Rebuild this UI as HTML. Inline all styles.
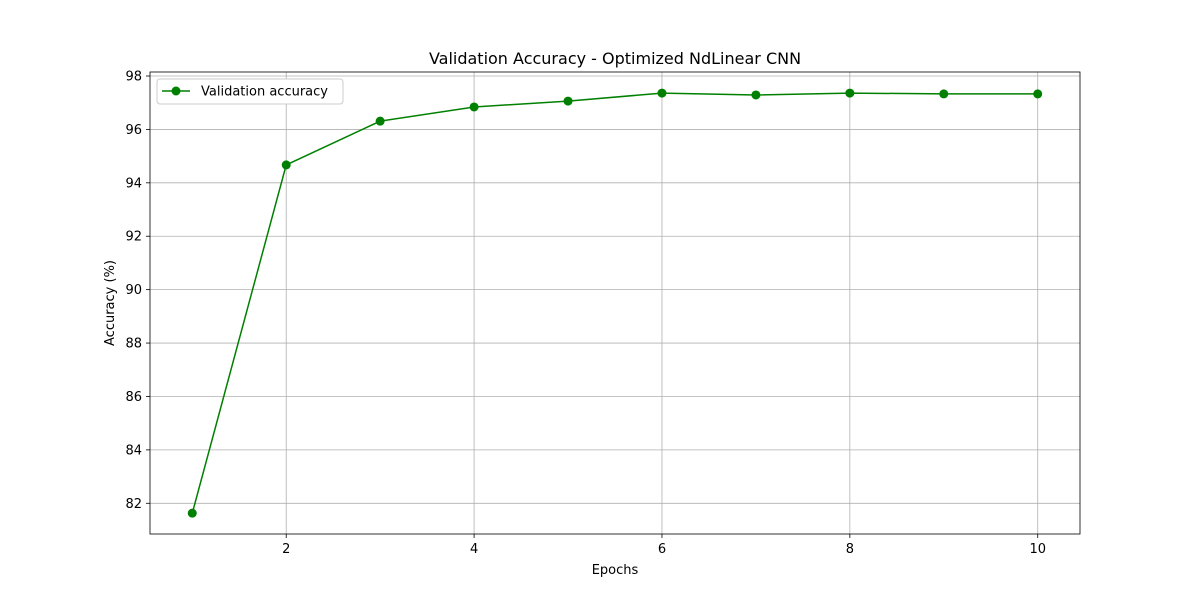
<!DOCTYPE html>
<html><head><meta charset="utf-8"><style>
body{margin:0;background:#fff;}
svg text{font-family:"DejaVu Sans","Liberation Sans",sans-serif;fill:#000;}
</style></head><body>
<svg id="chart" width="1200" height="600" xmlns="http://www.w3.org/2000/svg">
<rect width="1200" height="600" fill="#fff"/>
<g id="grid"></g>
<g id="series"></g>
<rect x="150" y="72" width="930" height="462" fill="none" stroke="#000" stroke-width="0.8"/>
<g id="ticks"></g>
<text x="615" y="64" font-size="16" text-anchor="middle">Validation Accuracy - Optimized NdLinear CNN</text>
<text x="615" y="574" font-size="13" text-anchor="middle">Epochs</text>
<text transform="translate(114,303) rotate(-90)" font-size="13" text-anchor="middle">Accuracy (%)</text>
<g>
<rect x="157" y="79" width="186" height="25" rx="3" fill="#fff" stroke="#ccc"/>
<line x1="162" y1="91" x2="190" y2="91" stroke="green" stroke-width="1.5"/>
<circle cx="176" cy="91" r="4.5" fill="green"/>
<text x="201" y="95.5" font-size="13">Validation accuracy</text>
</g>
</svg>
<script>
const epochs=[1,2,3,4,5,6,7,8,9,10];
const accuracy=[81.63,94.67,96.31,96.84,97.06,97.36,97.29,97.36,97.33,97.33];
const xTicks=[2,4,6,8,10];
const yTicks=[82,84,86,88,90,92,94,96,98];
const ns="http://www.w3.org/2000/svg";
const L=150,R=1080,T=72,B=534,xmin=0.55,xmax=10.45,ymin=80.85,ymax=98.15;
const X=v=>L+(v-xmin)/(xmax-xmin)*(R-L);
const Y=v=>B-(v-ymin)/(ymax-ymin)*(B-T);
function mk(t,a,p){const e=document.createElementNS(ns,t);for(const k in a)e.setAttribute(k,a[k]);p.appendChild(e);return e;}
const g=document.getElementById('grid'),tk=document.getElementById('ticks'),s=document.getElementById('series');
xTicks.forEach(v=>{const x=X(v);
const l=mk('line',{x1:x,x2:x,y1:T,y2:B,stroke:'#b0b0b0','stroke-width':0.8},g);


const m=mk('line',{x1:x,x2:x,y1:B,y2:B+4,stroke:'#000','stroke-width':0.8},tk);


const t=mk('text',{x:x,y:B+19,'font-size':13,'text-anchor':'middle'},tk);t.textContent=v;

});
yTicks.forEach(v=>{const y=Y(v);
const l=mk('line',{x1:L,x2:R,y1:y,y2:y,stroke:'#b0b0b0','stroke-width':0.8},g);


const m=mk('line',{x1:L-4,x2:L,y1:y,y2:y,stroke:'#000','stroke-width':0.8},tk);


const t=mk('text',{x:L-8,y:y+4.5,'font-size':13,'text-anchor':'end'},tk);t.textContent=v;

});
const pl=mk('polyline',{points:epochs.map((e,i)=>X(e)+','+Y(accuracy[i])).join(' '),fill:'none',stroke:'green','stroke-width':1.5},s);


epochs.forEach((e,i)=>{const c=mk('circle',{cx:X(e),cy:Y(accuracy[i]),r:4.5,fill:'green'},s);

});
</script>
</body></html>
